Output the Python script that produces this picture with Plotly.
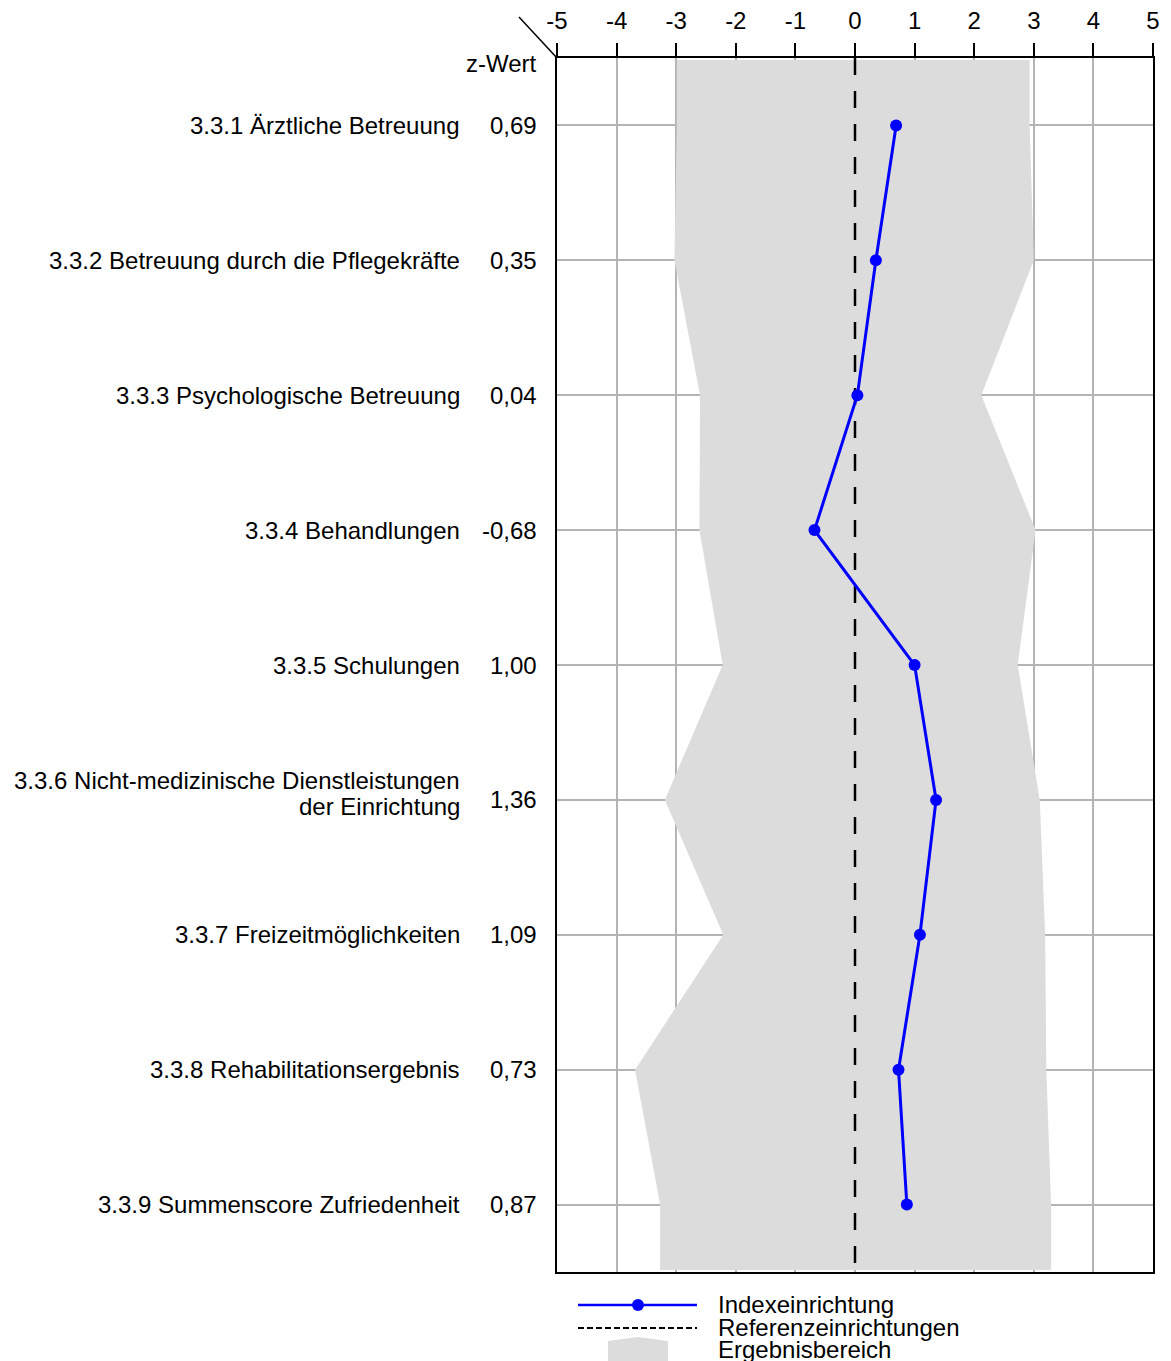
import plotly.graph_objects as go

# ---- data ----
categories = [
    "3.3.1 Ärztliche Betreuung",
    "3.3.2 Betreuung durch die Pflegekräfte",
    "3.3.3 Psychologische Betreuung",
    "3.3.4 Behandlungen",
    "3.3.5 Schulungen",
    "3.3.6 Nicht-medizinische Dienstleistungen\nder Einrichtung",
    "3.3.7 Freizeitmöglichkeiten",
    "3.3.8 Rehabilitationsergebnis",
    "3.3.9 Summenscore Zufriedenheit",
]
z_values = [0.69, 0.35, 0.04, -0.68, 1.00, 1.36, 1.09, 0.73, 0.87]
z_labels = ["0,69", "0,35", "0,04", "-0,68", "1,00", "1,36", "1,09", "0,73", "0,87"]
range_low = [-2.99, -3.03, -2.60, -2.61, -2.22, -3.19, -2.21, -3.69, -3.27]
range_high = [2.93, 3.00, 2.12, 3.03, 2.73, 3.10, 3.19, 3.21, 3.29]
reference_value = 0
x_ticks = [-5, -4, -3, -2, -1, 0, 1, 2, 3, 4, 5]
legend_items = ["Indexeinrichtung", "Referenzeinrichtungen", "Ergebnisbereich"]

FONT = "Liberation Sans, Arial, sans-serif"
FS = 24
OFF = 8  # page body margin
W, H = 1171 - OFF, 1361 - OFF
ML, MT = 557 - OFF, 58 - OFF
MR = W - (1153 - OFF)
MB = H - (1272 - OFF)
PW = W - ML - MR
PH = H - MT - MB

def px(x):
    return (x - OFF - ML) / PW

def py(y):
    return (H - MB - (y - OFF)) / PH

n = len(categories)
ypos = list(range(n))

fig = go.Figure()

# band polygon
top_edge, bot_edge = -0.485, n - 1 + 0.485
band_y = [top_edge] + ypos + [bot_edge]
band_r = [range_high[0]] + range_high + [range_high[-1]]
band_l = [range_low[0]] + range_low + [range_low[-1]]
fig.add_trace(go.Scatter(
    x=band_r + band_l[::-1], y=band_y + band_y[::-1],
    fill="toself", fillcolor="#dcdcdc", line=dict(width=0),
    mode="lines", hoverinfo="skip", showlegend=False,
))

# reference dashed line
fig.add_trace(go.Scatter(
    x=[reference_value, reference_value], y=[-0.5, n - 0.5],
    mode="lines", line=dict(color="black", width=2.5, dash="17px,16px"),
    showlegend=False, hoverinfo="skip",
))

# index line
fig.add_trace(go.Scatter(
    x=z_values, y=ypos, mode="lines+markers",
    line=dict(color="#0000ff", width=3),
    marker=dict(color="#0000ff", size=12),
    showlegend=False,
))

fig.update_xaxes(
    range=[-5, 5], side="top", tickvals=x_ticks,
    ticktext=[str(t) for t in x_ticks],
    ticks="outside", ticklen=13, tickwidth=1.5, tickcolor="black",
    ticklabelstandoff=4, automargin=False,
    showline=True, linecolor="black", linewidth=2, mirror=True,
    showgrid=True, gridcolor="#b4b4b4", gridwidth=1.5,
    zeroline=False,
    tickfont=dict(family=FONT, size=FS, color="black"),
)
fig.update_yaxes(
    range=[n - 0.5, -0.5], tickvals=ypos, showticklabels=False,
    showline=True, linecolor="black", linewidth=2, mirror=True,
    showgrid=True, gridcolor="#b4b4b4", gridwidth=1.5,
    zeroline=False, ticks="", automargin=False,
)

annotations = []
for i, (c, v) in enumerate(zip(categories, z_labels)):
    lines = c.split("\n")
    if len(lines) == 1:
        shifts = [0]
    else:
        shifts = [19, -7]
    for ln, s in zip(lines, shifts):
        annotations.append(dict(
            x=px(462), xref="paper", y=i, yref="y", text=ln, showarrow=False,
            xanchor="right", yanchor="middle", yshift=s,
            font=dict(family=FONT, size=FS, color="black"),
        ))
    annotations.append(dict(
        x=px(539), xref="paper", y=i, yref="y", text=v, showarrow=False,
        xanchor="right", yanchor="middle",
        font=dict(family=FONT, size=FS, color="black"),
    ))
annotations.append(dict(
    x=px(539), xref="paper", y=py(63), yref="paper", text="z-Wert",
    showarrow=False, xanchor="right", yanchor="middle",
    font=dict(family=FONT, size=FS, color="black"),
))
for t, yy in zip(legend_items, [1304, 1327, 1349]):
    annotations.append(dict(
        x=px(716), xref="paper", y=py(yy), yref="paper", text=t,
        showarrow=False, xanchor="left", yanchor="middle",
        font=dict(family=FONT, size=FS, color="black"),
    ))

shapes = [
    # corner diagonal
    dict(type="line", xref="paper", yref="paper",
         x0=px(519), y0=py(17), x1=px(557), y1=py(58),
         line=dict(color="black", width=1.5)),
    # legend: index line
    dict(type="line", xref="paper", yref="paper",
         x0=px(578), y0=py(1305), x1=px(697), y1=py(1305),
         line=dict(color="#0000ff", width=2.5)),
    dict(type="circle", xref="paper", yref="paper",
         x0=px(632), y0=py(1299), x1=px(644), y1=py(1311),
         fillcolor="#0000ff", line=dict(color="#0000ff", width=0)),
    # legend: reference dashed
    dict(type="line", xref="paper", yref="paper",
         x0=px(578), y0=py(1328), x1=px(697), y1=py(1328),
         line=dict(color="black", width=2, dash="6px,3px")),
    # legend: band icon
    dict(type="path", xref="paper", yref="paper",
         path=(f"M {px(608)} {py(1361)} L {px(608)} {py(1341)} "
               f"L {px(638)} {py(1337)} L {px(668)} {py(1341)} "
               f"L {px(668)} {py(1361)} Z"),
         fillcolor="#dcdcdc", line=dict(width=0)),
]

fig.update_layout(
    width=W, height=H,
    margin=dict(l=ML, r=MR, t=MT, b=MB),
    plot_bgcolor="white", paper_bgcolor="white",
    showlegend=False,
    annotations=annotations, shapes=shapes,
    font=dict(family=FONT, color="black"),
)

fig.write_html("out.html")
